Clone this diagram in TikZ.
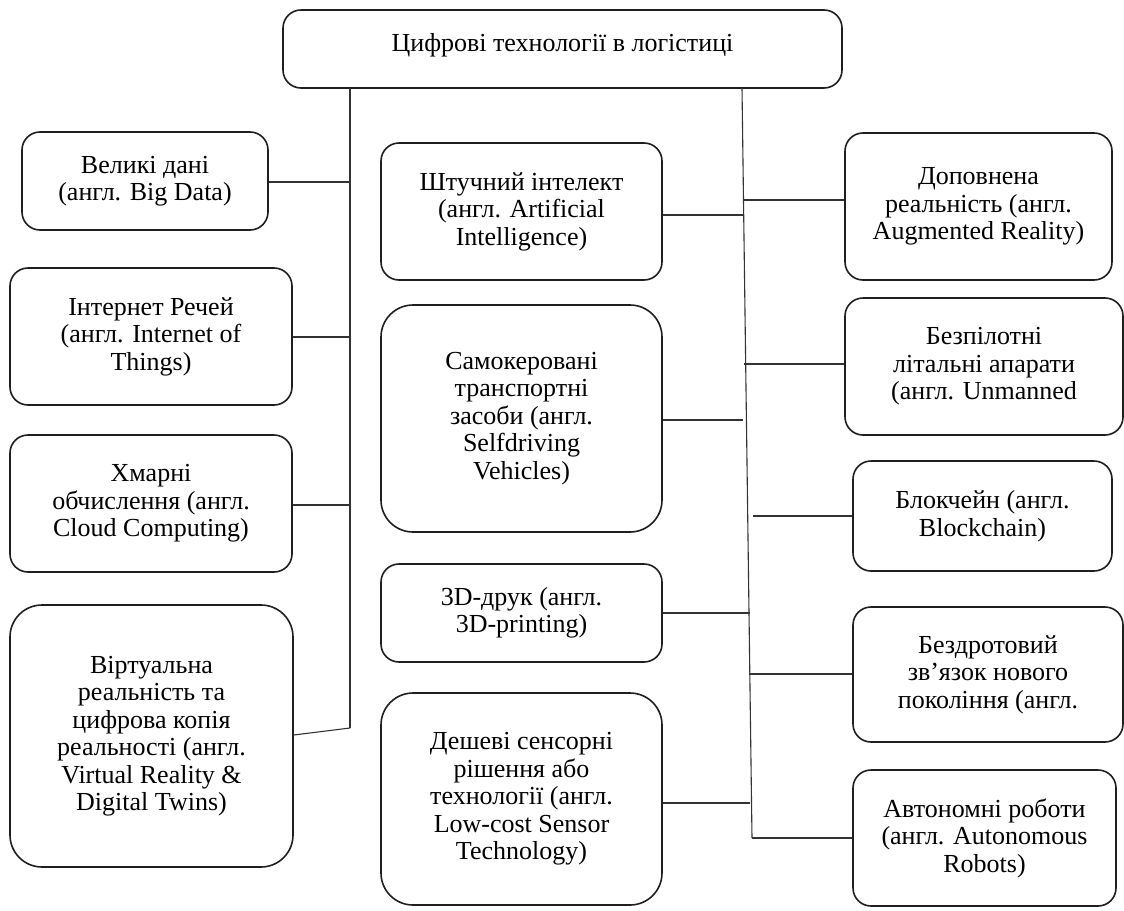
\documentclass[tikz,border=0pt]{standalone}
\usepackage{fontspec}
\setmainfont{Liberation Serif}
\begin{document}
\begin{tikzpicture}[x=1pt,y=-1pt,
  box/.style={draw=black!88,line width=1.6pt,rounded corners=18pt,align=center,inner sep=0pt,
    font=\fontsize{26}{27.5}\selectfont},
  tallbox/.style={box,rounded corners=32pt},
  conn/.style={draw=black!80,line width=1.1pt}]
\useasboundingbox (0,0) rectangle (1124,910);
% top
\node[box,minimum width=559pt,minimum height=78pt] (top) at (562.5,49) {\raisebox{14pt}{Цифрові технології в логістиці}};
% left column
\node[box,minimum width=246pt,minimum height=98pt] (bigdata) at (145,181) {Великі дані\\(англ. Big Data)};
\node[box,minimum width=282pt,minimum height=137pt] (iot) at (151,336.5) {Інтернет Речей\\(англ. Internet of\\Things)};
\node[box,minimum width=282pt,minimum height=137pt] (cloud) at (151,503.5) {Хмарні\\обчислення (англ.\\Cloud Computing)};
\node[tallbox,minimum width=283pt,minimum height=262pt] (vr) at (151.5,736) {Віртуальна\\реальність та\\цифрова копія\\реальності (англ.\\Virtual Reality \&\\Digital Twins)};
% middle column
\node[box,minimum width=281pt,minimum height=137pt] (ai) at (521.5,211.5) {Штучний інтелект\\(англ. Artificial\\Intelligence)};
\node[tallbox,minimum width=281pt,minimum height=227pt] (sdv) at (521.5,418.5) {Самокеровані\\транспортні\\засоби (англ.\\Selfdriving\\Vehicles)};
\node[box,minimum width=281pt,minimum height=98pt] (print) at (521.5,613) {3D-друк (англ.\\3D-printing)};
\node[tallbox,minimum width=281pt,minimum height=212pt] (sensor) at (521.5,799) {Дешеві сенсорні\\рішення або\\технології (англ.\\Low-cost Sensor\\Technology)};
% right column
\node[box,minimum width=267pt,minimum height=147pt] (ar) at (978.5,206.5) {Доповнена\\реальність (англ.\\Augmented Reality)};
\node[box,minimum width=278pt,minimum height=137pt] (uav) at (984,366.5) {Безпілотні\\літальні апарати\\(англ. Unmanned};
\node[box,minimum width=259pt,minimum height=110pt] (bc) at (982.5,516) {Блокчейн (англ.\\Blockchain)};
\node[box,minimum width=270pt,minimum height=135pt] (wl) at (988,674.5) {Бездротовий\\зв'язок нового\\покоління (англ.};
\node[box,minimum width=263pt,minimum height=136pt] (rob) at (984.5,838) {Автономні роботи\\(англ. Autonomous\\Robots)};
% left trunk
\coordinate (Ltop) at (350,88);
\coordinate (Lbot) at (350,728);
\coordinate (L1) at (350,182);
\coordinate (L2) at (350,337);
\coordinate (L3) at (350,505);
\draw[conn] (Ltop) -- (Lbot);
\draw[conn] (bigdata.east |- L1) -- (L1);
\draw[conn] (iot.east |- L2) -- (L2);
\draw[conn] (cloud.east |- L3) -- (L3);
\draw[conn] (vr.east |- 0,735) -- (Lbot);
% right trunk
\coordinate (Rtop) at (742,88);
\coordinate (Rbot) at (752,838);
\draw[conn] (Rtop) -- (Rbot);
\coordinate (R1) at (743.5,200);
\coordinate (R2) at (743.7,215);
\coordinate (R3) at (744.1,364);
\coordinate (R4) at (742.5,420);
\coordinate (R5) at (753,516);
\coordinate (R6) at (749.5,613);
\coordinate (R7) at (748.7,674);
\coordinate (R8) at (750.3,803);
\draw[conn] (R1) -- (ar.west |- R1);
\draw[conn] (ai.east |- R2) -- (R2);
\draw[conn] (R3) -- (uav.west |- R3);
\draw[conn] (sdv.east |- R4) -- (R4);
\draw[conn] (R5) -- (bc.west |- R5);
\draw[conn] (print.east |- R6) -- (R6);
\draw[conn] (R7) -- (wl.west |- R7);
\draw[conn] (sensor.east |- R8) -- (R8);
\draw[conn] (Rbot) -- (rob.west |- Rbot);
\end{tikzpicture}
\end{document}
